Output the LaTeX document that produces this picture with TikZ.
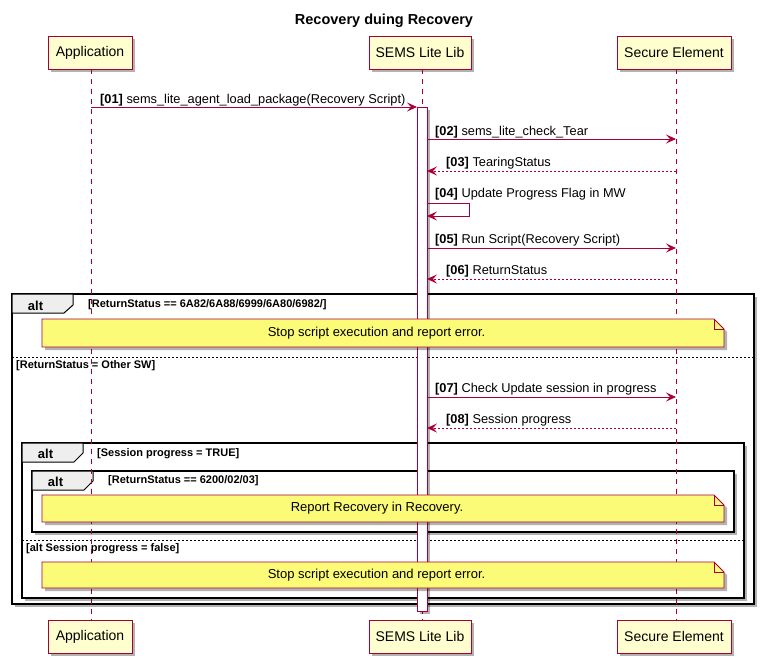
\documentclass[tikz,border=0pt]{standalone}
\usepackage{fontspec}
\setmainfont{Liberation Sans}
\usetikzlibrary{arrows.meta,shadows}
\definecolor{plred}{HTML}{A80036}
\definecolor{plpart}{HTML}{FEFECE}
\definecolor{plnote}{HTML}{FBFB77}
\definecolor{pltab}{HTML}{EEEEEE}
\begin{document}
\begin{tikzpicture}[x=1pt,y=-1pt,
  shd/.style={drop shadow={shadow xshift=3pt,shadow yshift=-3pt,opacity=0.3,fill=black}},
  participant/.style={draw=plred,fill=plpart,line width=1pt,minimum height=33pt,inner sep=0pt,font=\fontsize{14}{16}\selectfont,shd},
  lifeline/.style={draw=plred,line width=0.8pt,dash pattern=on 5pt off 5pt},
  msg/.style={draw=plred,line width=0.9pt,-{Stealth[length=10pt,width=9pt,inset=4pt]}},
  ret/.style={msg,dash pattern=on 2pt off 2pt},
  lbl/.style={anchor=base west,inner sep=0pt,font=\fontsize{12.8}{15}\selectfont},
  cond/.style={anchor=west,inner sep=0pt,font=\fontsize{11}{13}\selectfont\bfseries},
  frm/.style={draw=black,fill=white,line width=1.5pt,shd},
  tabshape/.style={draw=black,fill=pltab,line width=1pt},
  tabtext/.style={inner sep=0pt,font=\fontsize{13}{15}\selectfont\bfseries},
  sep/.style={draw=black,line width=0.6pt,dash pattern=on 2pt off 2pt},
  notebox/.style={draw=plred,fill=plnote,line width=0.8pt,shd},
  notefold/.style={draw=plred,line width=0.8pt},
  notetext/.style={inner sep=0pt,font=\fontsize{13}{15}\selectfont},
  barbox/.style={draw=plred,fill=white,line width=0.8pt,shd}
]
\useasboundingbox (0,0) rectangle (765,664);
\fill[white] (0,0) rectangle (765,664);

% title
\node[font=\fontsize{14.5}{17}\selectfont\bfseries] (title) at (384,21) {Recovery duing Recovery};

% frames
\path[frm] (12,294) rectangle (754,604);
\path[tabshape] (12,294) -- (73,294) -- (73,305) -- (64,313) -- (12,313) -- cycle;
\node[tabtext] (alt1) at (35.5,306) {alt};
\node[cond] (c1) at (88,305) {[ReturnStatus == 6A82/6A88/6999/6A80/6982/]};
\draw[sep] (12,357) -- (754,357);
\node[cond] (c2) at (16,366) {[ReturnStatus = Other SW]};

\path[frm] (22,443) rectangle (744,598);
\path[tabshape] (22,443) -- (83,443) -- (83,453) -- (74,462) -- (22,462) -- cycle;
\node[tabtext] (alt2) at (45.5,454) {alt};
\node[cond] (c3) at (97,454) {[Session progress = TRUE]};
\draw[sep] (22,540) -- (744,540);
\node[cond] (c5) at (26,549) {[alt Session progress = false]};

\path[frm] (32,471) rectangle (734,532);
\path[tabshape] (32,471) -- (93,471) -- (93,481) -- (84,490) -- (32,490) -- cycle;
\node[tabtext] (alt3) at (55.5,482) {alt};
\node[cond] (c4) at (108,481) {[ReturnStatus == 6200/02/03]};

% participants
\node[participant,minimum width=84pt] (appT) at (90,52.5) {Application};
\node[participant,minimum width=102pt] (libT) at (420,52.5) {SEMS Lite Lib};
\node[participant,minimum width=114pt] (seT) at (674,52.5) {Secure Element};
\node[participant,minimum width=84pt] (appB) at (90,636.5) {Application};
\node[participant,minimum width=102pt] (libB) at (420,636.5) {SEMS Lite Lib};
\node[participant,minimum width=114pt] (seB) at (674,636.5) {Secure Element};

% lifelines
\coordinate (appTop) at (91,69); \coordinate (appBot) at (91,620);
\coordinate (libTop) at (422,69); \coordinate (libBot) at (422,620);
\coordinate (seTop) at (676,69); \coordinate (seBot) at (676,620);
\draw[lifeline] (appTop) -- (appBot);
\draw[lifeline] (libTop) -- (libBot);
\draw[lifeline] (seTop) -- (seBot);

% activation bar
\path[barbox] (417,107) rectangle (427,611);
\node[inner sep=0pt,minimum width=10pt,minimum height=504pt] (bar) at (422,359) {};

% notes
\path[notebox] (42,319) -- (714,319) -- (724,329) -- (724,347) -- (42,347) -- cycle;
\draw[notefold] (714,319) -- (714,329) -- (724,329);
\node[notetext] (n1) at (376.5,333) {Stop script execution and report error.};

\path[notebox] (42,495) -- (714,495) -- (724,505) -- (724,522) -- (42,522) -- cycle;
\draw[notefold] (714,495) -- (714,505) -- (724,505);
\node[notetext] (n2) at (377,508.5) {Report Recovery in Recovery.};

\path[notebox] (42,562) -- (714,562) -- (724,572) -- (724,588) -- (42,588) -- cycle;
\draw[notefold] (714,562) -- (714,572) -- (724,572);
\node[notetext] (n3) at (376.5,575) {Stop script execution and report error.};

% message coordinates
\coordinate (m1a) at (91,107);  \coordinate (m1b) at (417,107);
\coordinate (m2a) at (427,139); \coordinate (m2b) at (676,139);
\coordinate (m3a) at (676,171); \coordinate (m3b) at (427,171);
\coordinate (m4a) at (427,203); \coordinate (m4c) at (469,203);
\coordinate (m4d) at (469,216); \coordinate (m4b) at (427,216);
\coordinate (m5a) at (427,248); \coordinate (m5b) at (676,248);
\coordinate (m6a) at (676,279); \coordinate (m6b) at (427,279);
\coordinate (m7a) at (427,397); \coordinate (m7b) at (676,397);
\coordinate (m8a) at (676,428); \coordinate (m8b) at (427,428);

\draw[msg] (m1a) -- (m1b);
\draw[msg] (m2a) -- (m2b);
\draw[ret] (m3a) -- (m3b);
\draw[msg] (m4a) -- (m4c) -- (m4d) -- (m4b);
\draw[msg] (m5a) -- (m5b);
\draw[ret] (m6a) -- (m6b);
\draw[msg] (m7a) -- (m7b);
\draw[ret] (m8a) -- (m8b);

\node[lbl] (l1) at (100,103) {\textbf{[01]} sems\_lite\_agent\_load\_package(Recovery Script)};
\node[lbl] (l2) at (435,135) {\textbf{[02]} sems\_lite\_check\_Tear};
\node[lbl] (l3) at (446,166.5) {\textbf{[03]} TearingStatus};
\node[lbl] (l4) at (435,197.5) {\textbf{[04]} Update Progress Flag in MW};
\node[lbl] (l5) at (435,243.5) {\textbf{[05]} Run Script(Recovery Script)};
\node[lbl] (l6) at (446,274.5) {\textbf{[06]} ReturnStatus};
\node[lbl] (l7) at (435,392.5) {\textbf{[07]} Check Update session in progress};
\node[lbl] (l8) at (446,423.5) {\textbf{[08]} Session progress};
\end{tikzpicture}
\end{document}
